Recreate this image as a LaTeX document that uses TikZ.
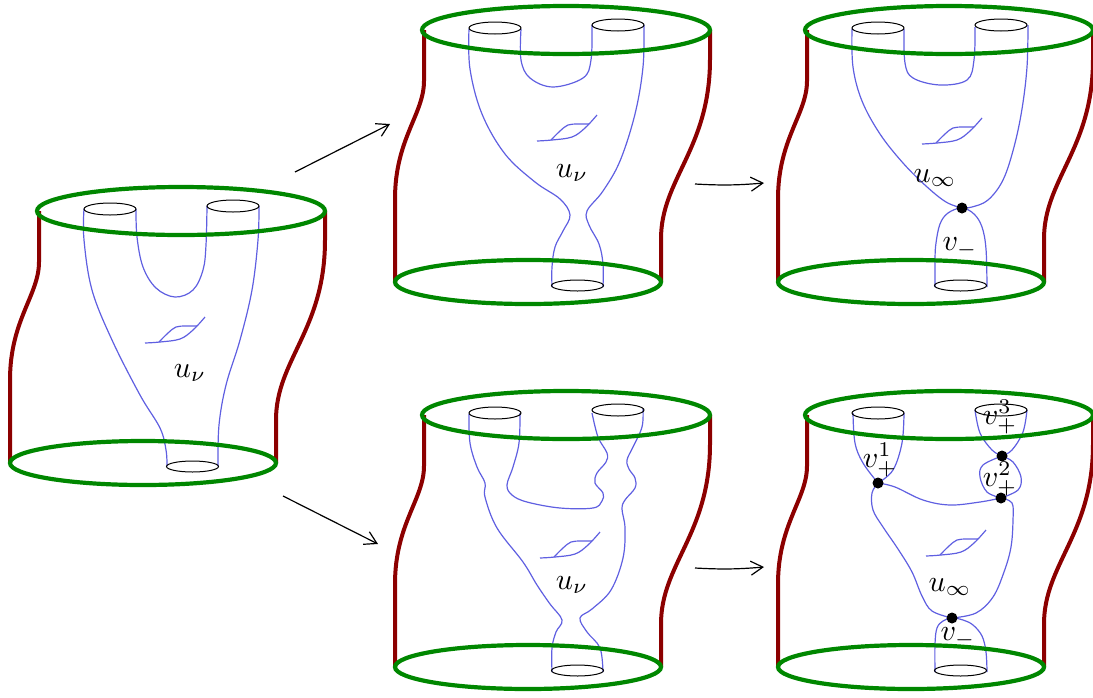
\documentclass[tikz,border=0pt]{standalone}
\usetikzlibrary{arrows.meta}
\definecolor{rim}{RGB}{0,135,0}
\definecolor{wall}{RGB}{140,0,0}
\definecolor{sheetcol}{RGB}{95,95,225}
\tikzset{
  rimline/.style={draw=rim, line width=2.1pt},
  wallline/.style={draw=wall, line width=2pt},
  tube/.style={draw=black, line width=0.5pt},
  sheet/.style={draw=sheetcol, line width=0.6pt},
  lbl/.style={inner sep=0pt, scale=1.5},
  node point/.style={circle, fill=black, inner sep=0pt, minimum size=5.5pt},
  mapto/.style={line width=0.6pt, -{Straight Barb[length=6pt,width=7pt]}},
}
% outer cylinder: two walls and two green rims
\newcommand\cylinderframe{%
  \draw[wallline] (39,211) -- (39,262) .. controls (39,295) and (10,320) .. (10,380) -- (10,463);
  \draw[wallline] (325,211) -- (325,240) .. controls (325,330) and (276,360) .. (276,420) -- (276,463);
  \draw[rimline] (181,211) ellipse [x radius=144, y radius=24];
  \draw[rimline] (143,463) ellipse [x radius=133, y radius=22];
}
% the three cylindrical ends of the curve
\newcommand\tubeends{%
  \draw[tube] (110,209) ellipse [x radius=26, y radius=6];
  \draw[tube] (233,206) ellipse [x radius=26, y radius=6];
  \draw[tube] (192.5,466.5) ellipse [x radius=26, y radius=5.5];
}
% handle of the surface, placed by its left tail
\newcommand\handleat[1]{%
  \begin{scope}[shift={#1}]
    \draw[sheet] plot[smooth, tension=0.6] coordinates {(0,0) (15,-1) (35,-4) (48,-13) (60,-26)};
    \draw[sheet] plot[smooth, tension=0.6] coordinates {(14,-1) (23,-10) (31,-16) (41,-17) (52,-17)};
  \end{scope}}
\begin{document}
\begin{tikzpicture}[x=0.5pt, y=-0.5pt]
\useasboundingbox (0,0) rectangle (1093,697);

% ---- left: the curve u_nu ----
\begin{scope}
  \draw[sheet] plot[smooth, tension=0.6] coordinates {(84,209) (84,240) (92,290) (112,340) (140,395) (160,428) (166,450) (167,466)};
  \draw[sheet] plot[smooth, tension=0.6] coordinates {(259,206) (258,240) (252,290) (240,340) (226,385) (219,425) (218,466)};
  \draw[sheet] plot[smooth, tension=0.6] coordinates {(136,209) (137,237) (143,267) (156,288) (175,297) (193,290) (203,270) (206,245) (207,206)};
  \handleat{(145,343)}
  \tubeends
  \cylinderframe
  \node[lbl] (ua) at (190,373) {$u_\nu$};
\end{scope}

% ---- top middle: u_nu developing a neck ----
\begin{scope}[shift={(385,-181)}]
  \draw[sheet] plot[smooth, tension=0.6] coordinates {(136,210) (136,241) (145,259) (168,268) (198,259) (206,241) (207,206)};
  \draw[sheet] plot[smooth, tension=0.6] coordinates {(84,210) (85,250) (97,295) (120,335) (150,363) (175,380) (185,396) (178,412) (170,428) (167,448) (167,468)};
  \draw[sheet] plot[smooth, tension=0.6] coordinates {(259,206) (258,248) (250,295) (235,342) (218,372) (202,392) (204,406) (214,425) (218,445) (218,468)};
  \handleat{(152,322)}
  \tubeends
  \cylinderframe
  \node[lbl] (ub) at (187,354) {$u_\nu$};
\end{scope}

% ---- top right: limit building u_infty and v_- ----
\begin{scope}[shift={(768,-181)}]
  \draw[sheet] plot[smooth, tension=0.6] coordinates {(136,210) (137,244) (145,259) (172,266) (199,261) (206,241) (207,208)};
  \draw[sheet] plot[smooth, tension=0.6] coordinates {(84,210) (85,248) (94,282) (112,315) (135,344) (158,367) (178,383) (194,389)};
  \draw[sheet] plot[smooth, tension=0.6] coordinates {(260,206) (259,248) (254,290) (246,328) (235,361) (220,381) (204,388) (194,389)};
  \draw[sheet] plot[smooth, tension=0.6] coordinates {(167,468) (167,440) (168,424) (172,405) (180,394) (194,389) (206,395) (214,408) (218,430) (219,468)};
  \handleat{(154,325)}
  \tubeends
  \cylinderframe
  \node[node point] (pc) at (194,389) {};
  \node[lbl] (uc) at (167,359) {$u_\infty$};
  \node[lbl] (vc) at (192,429) {$v_-$};
\end{scope}

% ---- bottom middle: u_nu with several necks ----
\begin{scope}[shift={(385,204)}]
  \draw[sheet] plot[smooth, tension=0.6] coordinates {(84,210) (85,239) (92,263) (100,279) (100,293) (112,324) (138,358) (152,381) (165,400) (177,416) (171,428) (167,444) (167,468)};
  \draw[sheet] plot[smooth, tension=0.6] coordinates {(258,205) (257,223) (248,243) (242,256) (244,265) (250,274) (250,284) (240,296) (237,305) (240,324) (238,354) (226,386) (207,405) (195,414) (202,428) (215,444) (218,468)};
  \draw[sheet] plot[smooth, tension=0.6] coordinates {(135,209) (134,239) (128,263) (122,281) (127,291) (142,298) (175,304) (208,304) (217,297) (218,289) (210,279) (212,269) (221,258) (222,249) (213,233) (207,209)};
  \handleat{(155,354)}
  \tubeends
  \cylinderframe
  \node[lbl] (ud) at (187,381) {$u_\nu$};
\end{scope}

% ---- bottom right: limit building with bubbles v_+ ----
\begin{scope}[shift={(768,204)}]
  \draw[sheet] plot[smooth, tension=0.6] coordinates {(85,209) (87,239) (95,259) (110,279)};
  \draw[sheet] plot[smooth, tension=0.6] coordinates {(136,209) (134,239) (125,266) (110,279)};
  \draw[sheet] plot[smooth, tension=0.6] coordinates {(207,206) (212,229) (224,246) (234,252)};
  \draw[sheet] plot[smooth, tension=0.6] coordinates {(259,206) (255,228) (244,246) (234,252)};
  \draw[sheet] plot[smooth, tension=0.6] coordinates {(234,252) (215,261) (212,273) (219,288) (233,294)};
  \draw[sheet] plot[smooth, tension=0.6] coordinates {(234,252) (245,258) (253,273) (250,286) (233,294)};
  \draw[sheet] plot[smooth, tension=0.6] coordinates {(110,279) (127,283) (155,296) (182,301) (212,298) (233,294)};
  \draw[sheet] plot[smooth, tension=0.6] coordinates {(110,279) (104,289) (105,306) (115,323) (130,345) (144,368) (154,392) (164,407) (184,414)};
  \draw[sheet] plot[smooth, tension=0.6] coordinates {(233,294) (244,299) (245,316) (243,343) (236,368) (225,393) (208,409) (184,414)};
  \draw[sheet] plot[smooth, tension=0.6] coordinates {(167,468) (167,440) (169,424) (175,417) (184,414) (195,416) (205,421) (214,432) (218,448) (219,468)};
  \handleat{(158,352)}
  \tubeends
  \cylinderframe
  \node[node point] (pe1) at (110,279) {};
  \node[node point] (pe2) at (234,252) {};
  \node[node point] (pe3) at (233,294) {};
  \node[node point] (pe4) at (184,414) {};
  \node[lbl] (ve1) at (112,256) {$v_+^1$};
  \node[lbl] (ve2) at (232,275) {$v_+^2$};
  \node[lbl] (ve3) at (232,213) {$v_+^3$};
  \node[lbl] (ue) at (182,383) {$u_\infty$};
  \node[lbl] (ve) at (190,434) {$v_-$};
\end{scope}

% ---- maps between the stages ----
\coordinate (a1s) at (295,172);  \coordinate (a1e) at (390,124);
\coordinate (a2s) at (283,496);  \coordinate (a2e) at (378,544);
\coordinate (a3s) at (695,184);  \coordinate (a3e) at (764,183);
\coordinate (a4s) at (695,568);  \coordinate (a4e) at (764,567);
\draw[mapto] (a1s) -- (a1e);
\draw[mapto] (a2s) -- (a2e);
\draw[mapto] (a3s) to[bend right=4] (a3e);
\draw[mapto] (a4s) to[bend right=4] (a4e);
\end{tikzpicture}
\end{document}
